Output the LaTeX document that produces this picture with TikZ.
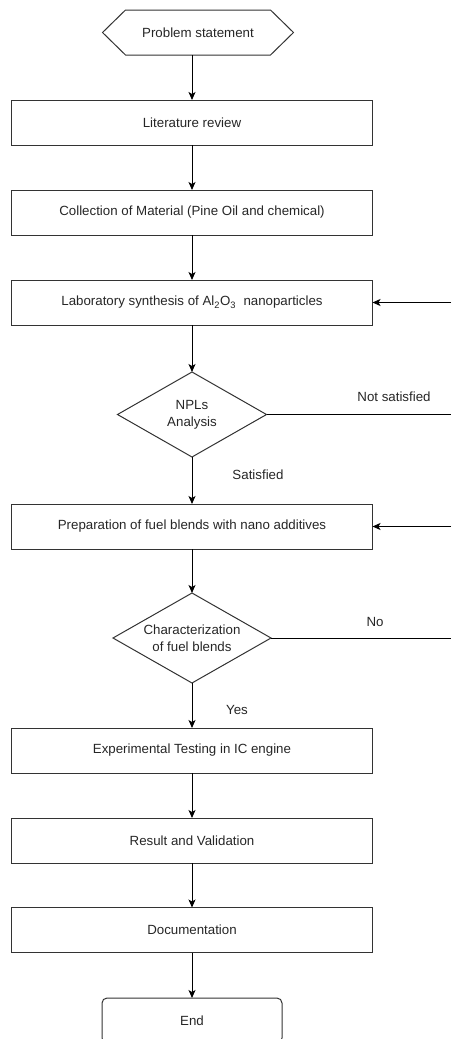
\documentclass[tikz,border=0pt]{standalone}
\usepackage{fontspec}
\setmainfont{Liberation Sans}
\usetikzlibrary{arrows.meta,shapes.geometric}
\begin{document}
\begin{tikzpicture}[x=1pt,y=-1pt,
  every node/.style={font=\fontsize{13.3}{17}\selectfont, text=black!85, outer sep=0pt},
  proc/.style={draw=black!80, line width=1pt, minimum width=361pt, minimum height=45pt, inner sep=0pt, align=center},
  dec/.style={inner sep=0pt, align=center},
  shp/.style={draw=black!80, line width=1pt},
  arr/.style={draw=black, line width=1pt, -{Stealth[length=8pt,width=7pt,inset=2pt]}},
  lbl/.style={inner sep=0pt},
  ln/.style={draw=black, line width=1pt}
]
\useasboundingbox (0,0) rectangle (451,1039);
\clip (0,0) rectangle (451,1039);
\coordinate (E) at (451,0);

\node[minimum width=191pt, minimum height=45pt, inner sep=0pt] (ps) at (198,32.5) {Problem statement};
\draw[shp] (ps.west) -- ([xshift=23pt]ps.north west) -- ([xshift=-23pt]ps.north east) -- (ps.east) -- ([xshift=-23pt]ps.south east) -- ([xshift=23pt]ps.south west) -- cycle;

\node[proc] (lit) at (192,122.5) {Literature review};
\node[proc] (col) at (192,212.5) {Collection of Material (Pine Oil and chemical)};
\node[proc] (lab) at (192,302.5) {Laboratory synthesis of Al\textsubscript{2}O\textsubscript{3}\ \ nanoparticles};
\node[dec, minimum width=149pt, minimum height=85pt] (npl) at (192,414.5) {NPLs\\Analysis};
\draw[shp] (npl.north) -- (npl.east) -- (npl.south) -- (npl.west) -- cycle;
\node[proc] (prep) at (192,526.5) {Preparation of fuel blends with nano additives};
\node[dec, minimum width=158pt, minimum height=90pt] (chr) at (192,638) {Characterization\\of fuel blends};
\draw[shp] (chr.north) -- (chr.east) -- (chr.south) -- (chr.west) -- cycle;
\node[proc] (exp) at (192,750.5) {Experimental Testing in IC engine};
\node[proc] (res) at (192,840.5) {Result and Validation};
\node[proc] (doc) at (192,930) {Documentation};
\node[draw=black!80, line width=1pt, rounded corners=5pt, minimum width=180pt, minimum height=45pt, inner sep=0pt] (end) at (192,1020.5) {End};

\draw[arr] (lit.north |- ps.south) -- (lit.north);
\draw[arr] (lit) -- (col);
\draw[arr] (col) -- (lab);
\draw[arr] (lab) -- (npl.north);
\draw[arr] (npl.south) -- (prep);
\draw[arr] (prep) -- (chr.north);
\draw[arr] (chr.south) -- (exp);
\draw[arr] (exp) -- (res);
\draw[arr] (res) -- (doc);
\draw[arr] (doc) -- (end);

\draw[ln] (npl.east) -- (npl.east -| E);
\draw[arr] (lab.east -| E) -- (lab.east);
\draw[ln] (chr.east) -- (chr.east -| E);
\draw[arr] (prep.east -| E) -- (prep.east);

\node[lbl] (l1) at (394,397) {Not satisfied};
\node[lbl] (l2) at (258,475) {Satisfied};
\node[lbl] (l3) at (375,622) {No};
\node[lbl] (l4) at (237,710) {Yes};
\end{tikzpicture}
\end{document}
